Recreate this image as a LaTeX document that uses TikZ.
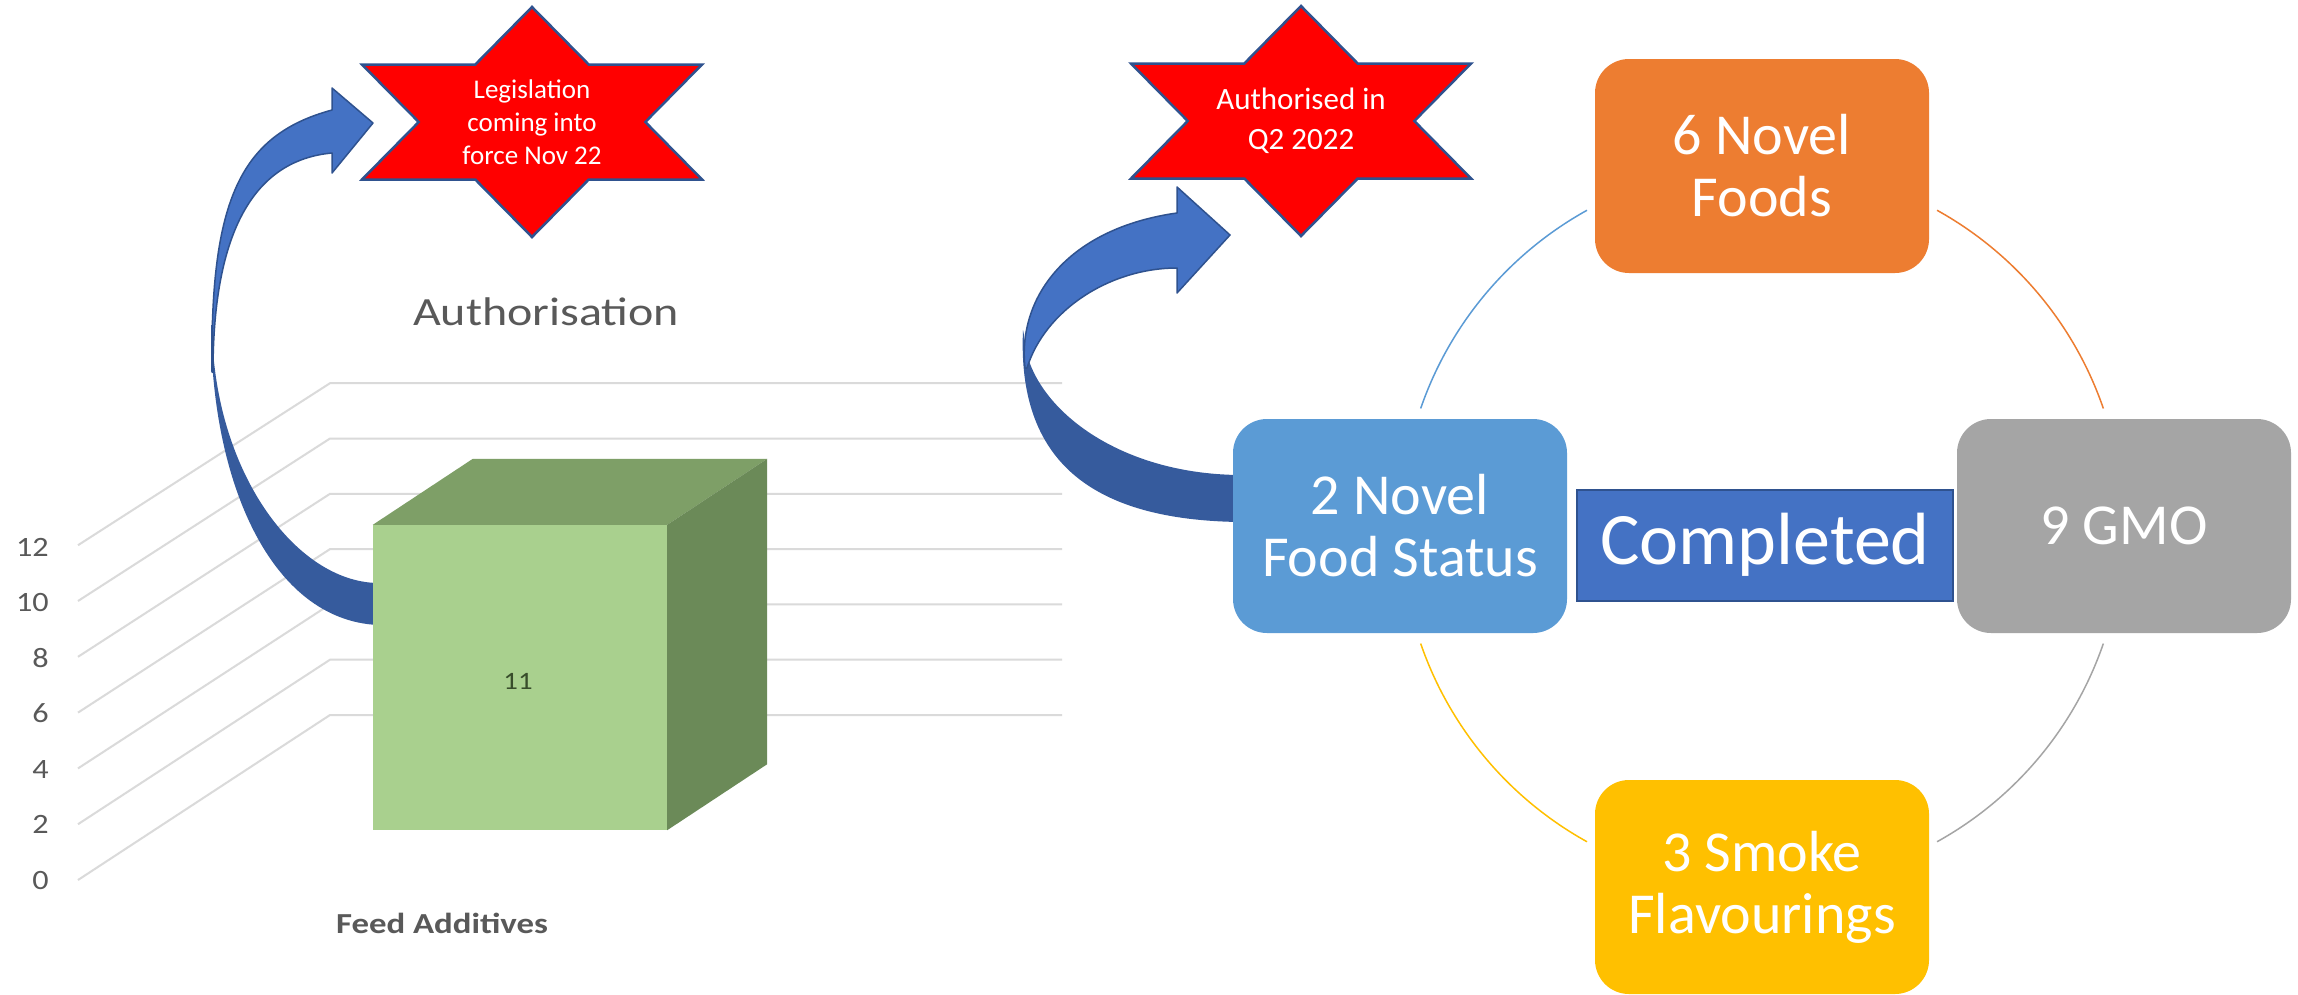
\documentclass[tikz,border=0pt]{standalone}
\usepackage{fontspec}
\setmainfont{Carlito}
\usetikzlibrary{calc}

\definecolor{accblue}{HTML}{5B9BD5}
\definecolor{accorange}{HTML}{ED7D31}
\definecolor{accgray}{HTML}{A5A5A5}
\definecolor{accgold}{HTML}{FFC000}
\definecolor{arrowlight}{HTML}{4472C4}
\definecolor{arrowdark}{HTML}{365B9D}
\definecolor{edgeblue}{HTML}{2F528F}
\definecolor{gridgray}{HTML}{DADADA}
\definecolor{axisgray}{HTML}{595959}
\definecolor{barfront}{HTML}{A9D08E}
\definecolor{bartop}{HTML}{7E9F67}
\definecolor{barside}{HTML}{6B8A58}
\definecolor{barlabel}{HTML}{384D2B}
\definecolor{starred}{HTML}{FF0000}

\tikzset{
  gridline/.style={draw=gridgray, line width=2pt},
  axislabel/.style={text=axisgray, inner sep=0pt, font=\fontsize{28}{30}\selectfont},
  cyclebox/.style={rounded corners=34pt, minimum width=334pt, minimum height=214pt,
    inner sep=0pt, text=white, align=center, font=\fontsize{58}{62}\selectfont},
  ringarc/.style={line width=1.5pt},
  starfill/.style={fill=starred, draw=edgeblue, line width=2.5pt, line join=miter},
  startext/.style={text=white, align=center, inner sep=0pt},
  ribbonlight/.style={fill=arrowlight, draw=edgeblue, line width=1.5pt, line join=round},
  ribbondark/.style={fill=arrowdark},
}

\begin{document}
\begin{tikzpicture}[x=1pt, y=-1pt]
\useasboundingbox (0,0) rectangle (2298,994);
\fill[white] (0,0) rectangle (2298,994);

% ---------- 3-D column chart ----------
\foreach \k in {0,...,6} {
  \draw[gridline] (78,{880-55.8*\k}) -- (330,{715-55.3*\k}) -- (1062,{715-55.3*\k});
  \pgfmathtruncatemacro{\v}{2*\k}
  \node[axislabel, anchor=east] (tick\k) at (49,{880-55.5*\k}) {\scalebox{1.15}[1]{\v}};
}
\node[text=axisgray, font=\fontsize{40}{44}\selectfont] (title) at (546,312)
  {\scalebox{1.2}[1]{Authorisation}};
\node[text=axisgray, font=\fontsize{29}{32}\selectfont\bfseries] (category) at (442,923)
  {\scalebox{1.2}[1]{Feed Additives}};

% ---------- curved ribbon arrows ----------
\coordinate (tailL) at (375,604);
\coordinate (tipL) at (373,123);
\coordinate (tailR) at (1235,498);
\coordinate (tipR) at (1230,235);

% left ribbon: shaded back band, then the lighter arrow body
\fill[ribbondark] (211,325) .. controls (211,480) and (270,620) .. (378,625)
  -- (378,583) .. controls (295,582) and (213,470) .. (212,325) -- cycle;
\filldraw[ribbonlight] (212,372) .. controls (210,200) and (240,135) .. (332,110)
  -- (332,88) -- (tipL) -- (332,173) -- (332,153)
  .. controls (255,160) and (213,230) .. (213,372) -- cycle;

% right ribbon
\fill[ribbondark] (1023,330) .. controls (1017,460) and (1090,520) .. (1240,522)
  -- (1240,475) .. controls (1110,474) and (1026,400) .. (1024,335) -- cycle;
\filldraw[ribbonlight] (1025,368) .. controls (1017,295) and (1070,228) .. (1177,213)
  -- (1177,187) -- (tipR) -- (1177,293) -- (1177,268)
  .. controls (1110,268) and (1045,310) .. (1027,368) -- cycle;

% ---------- the column ----------
\node[fill=barfront, minimum width=294pt, minimum height=305pt, inner sep=0pt] (bar) at (520,677.5) {};
\fill[bartop] (bar.north west) -- ([shift={(100,-66)}]bar.north west)
  -- ([shift={(100,-66)}]bar.north east) -- (bar.north east) -- cycle;
\fill[barside] (bar.north east) -- ([shift={(100,-66)}]bar.north east)
  -- ([shift={(100,-66)}]bar.south east) -- (bar.south east) -- cycle;
\node[text=barlabel, font=\fontsize{25}{28}\selectfont] (barvalue) at (518,681) {\scalebox{1.15}[1]{11}};

% ---------- stars ----------
\coordinate (legisc) at (532,122);
\coordinate (authc) at (1301,121);
\foreach \c in {legisc,authc} {
  \begin{scope}[shift={(\c)}]
    \draw[starfill] (0,-115) -- (56.7,-57.5) -- (170,-57.5) -- (113.3,0) -- (170,57.5)
      -- (56.7,57.5) -- (0,115) -- (-56.7,57.5) -- (-170,57.5) -- (-113.3,0)
      -- (-170,-57.5) -- (-56.7,-57.5) -- cycle;
  \end{scope}
}
\node[startext, font=\fontsize{27}{33}\selectfont] (legis) at (legisc)
  {Legislation\\coming into\\force Nov 22};
\node[startext, font=\fontsize{31}{40}\selectfont] (auth) at (authc)
  {Authorised in\\Q2 2022};

% ---------- cycle of categories ----------
\coordinate (hub) at (1762,526);
\draw[ringarc, accblue]   ([shift={(199:361)}]hub) arc[start angle=199, end angle=241, radius=361];
\draw[ringarc, accorange] ([shift={(299:361)}]hub) arc[start angle=299, end angle=341, radius=361];
\draw[ringarc, accgray]   ([shift={(19:361)}]hub)  arc[start angle=19,  end angle=61,  radius=361];
\draw[ringarc, accgold]   ([shift={(119:361)}]hub) arc[start angle=119, end angle=161, radius=361];

\node[cyclebox, fill=accorange] (novel) at (1762,166) {6 Novel\\Foods};
\node[cyclebox, fill=accgray] (gmo) at (2124,526) {9 GMO};
\node[cyclebox, fill=accblue] (status) at (1400,526) {2 Novel\\Food Status};
\node[cyclebox, fill=accgold] (smoke) at (1762,887) {3 Smoke\\Flavourings};

\node[fill=arrowlight, draw=edgeblue, line width=2pt, minimum width=376pt, minimum height=111pt,
  inner sep=0pt, text=white, font=\fontsize{74}{80}\selectfont] (done) at (1765,545) {Completed};
\end{tikzpicture}
\end{document}
